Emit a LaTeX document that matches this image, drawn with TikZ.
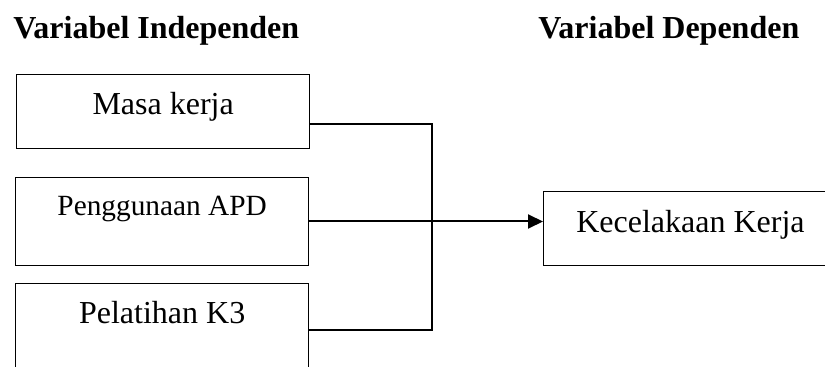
\documentclass[tikz,border=0pt]{standalone}
\usepackage{fontspec}
\setmainfont{Liberation Serif}
\usetikzlibrary{arrows.meta}

\tikzset{
  head/.style={anchor=base west,inner sep=0,font=\fontsize{24}{28}\selectfont\bfseries},
  varbox/.style={draw,line width=.75pt,anchor=north west,inner sep=0,
    minimum width=220pt,text height=30pt,text depth=25.5pt,
    font=\fontsize{24}{28}\selectfont},
  link/.style={line width=1.5pt}
}

\begin{document}
\begin{tikzpicture}[x=.75pt,y=-.75pt]
\clip (0,0) rectangle (825,367);

\node[head] (hIndep) at (13,39) {Variabel Independen};
\node[head] (hDep) at (538,39) {Variabel Dependen};

\node[varbox] (masa) at (16,74) {Masa kerja};
\node[varbox,text height=28.5pt,text depth=37.5pt,font=\fontsize{22}{26}\selectfont] (apd) at (15,177) {Penggunaan APD};
\node[varbox,text depth=70pt] (k3) at (15,283) {Pelatihan K3};
\node[varbox,minimum width=220.5pt,text height=30.75pt,text depth=24.75pt] (kk) at (543,191) {Kecelakaan Kerja};

\coordinate (masaOut) at (masa.east |- 0,124);
\coordinate (k3Out) at (k3.east |- 0,330);
\coordinate (bus) at (432,221);

\draw[link] (masaOut) -| (bus) |- (k3Out);
\draw[link,-{Triangle[length=11.25pt,width=10.5pt]}] (apd.east) -- (apd.east -| kk.west);
\end{tikzpicture}
\end{document}
